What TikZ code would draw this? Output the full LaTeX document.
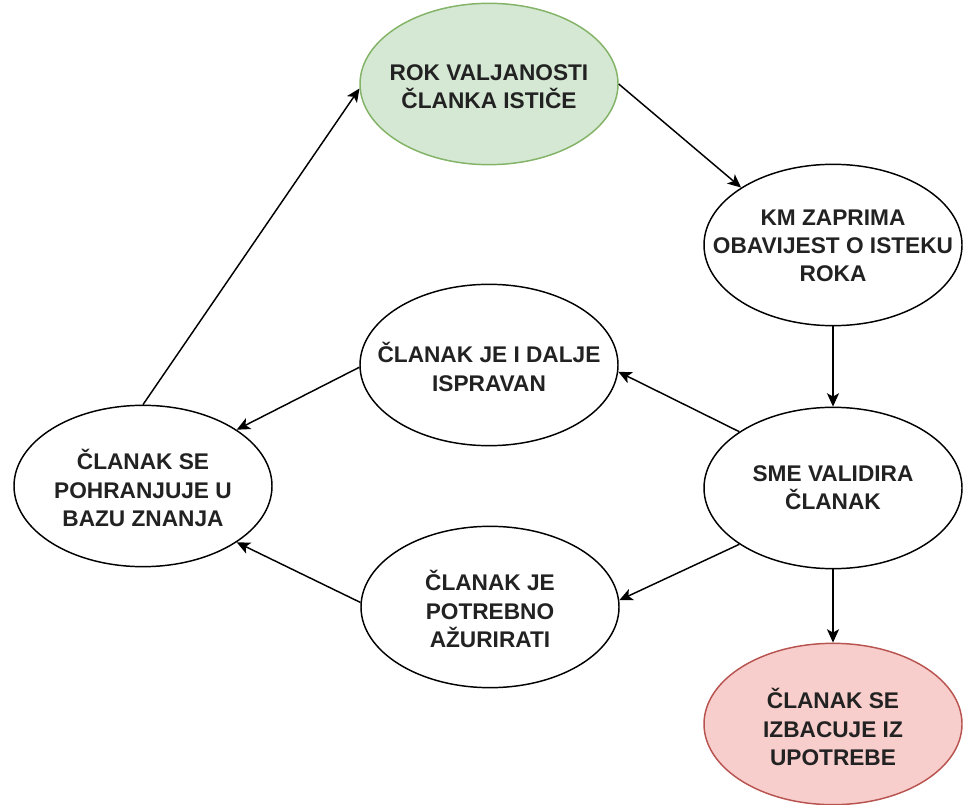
\documentclass[tikz,border=0pt]{standalone}
\usepackage{fontspec}
\setmainfont{Liberation Sans}
\usetikzlibrary{arrows.meta,shapes.geometric}
\definecolor{gfill}{HTML}{D5E8D4}
\definecolor{gdraw}{HTML}{82B366}
\definecolor{rfill}{HTML}{F8CECC}
\definecolor{rdraw}{HTML}{B85450}
\definecolor{txtc}{HTML}{222222}
\begin{document}
\begin{tikzpicture}[x=0.75pt,y=-0.75pt,
  ell/.style={draw=black, ellipse, inner sep=0pt, line width=1.1pt,
    minimum width=193.5pt, minimum height=121pt, fill=white},
  green/.style={fill=gfill, draw=gdraw},
  red/.style={fill=rfill, draw=rdraw},
  txt/.style={align=center, inner sep=0pt, text=txtc,
    font=\fontsize{17}{21.2}\selectfont\bfseries},
  arr/.style={-{Stealth[length=10pt,width=9pt,inset=2.5pt]}, line width=1.1pt}]
\useasboundingbox (0,0) rectangle (963,805);
\node[ell,green] (g)   at (489,84)  {};
\node[ell]       (km)  at (833,245) {};
\node[ell]       (sme) at (833,488) {};
\node[ell]       (isp) at (489,365) {};
\node[ell]       (az)  at (490,607) {};
\node[ell]       (poh) at (143,486) {};
\node[ell,red]   (rd)  at (833,724) {};
\node[txt] (g-t)   at (489,87)  {ROK VALJANOSTI\\ČLANKA ISTIČE};
\node[txt] (km-t)  at (833,246) {KM ZAPRIMA\\OBAVIJEST O ISTEKU\\ROKA};
\node[txt] (sme-t) at (833,488) {SME VALIDIRA\\ČLANAK};
\node[txt] (isp-t) at (489,367) {ČLANAK JE I DALJE\\ISPRAVAN};
\node[txt] (az-t)  at (490,609) {ČLANAK JE\\POTREBNO\\AŽURIRATI};
\node[txt] (poh-t) at (143,488) {ČLANAK SE\\POHRANJUJE U\\BAZU ZNANJA};
\node[txt] (rd-t)  at (833,727) {ČLANAK SE\\IZBACUJE IZ\\UPOTREBE};
\draw[arr] (g.east) -- (km.148);
\draw[arr] (km.south) -- (sme.north);
\draw[arr] (sme.149) -- (isp.-3);
\draw[arr] (sme.211) -- (az.3);
\draw[arr] (sme.south) -- (rd.north);
\draw[arr] (isp.181) -- (poh.31);
\draw[arr] (az.178) -- (poh.-31);
\draw[arr] (poh.north) -- (g.182);
\end{tikzpicture}
\end{document}
